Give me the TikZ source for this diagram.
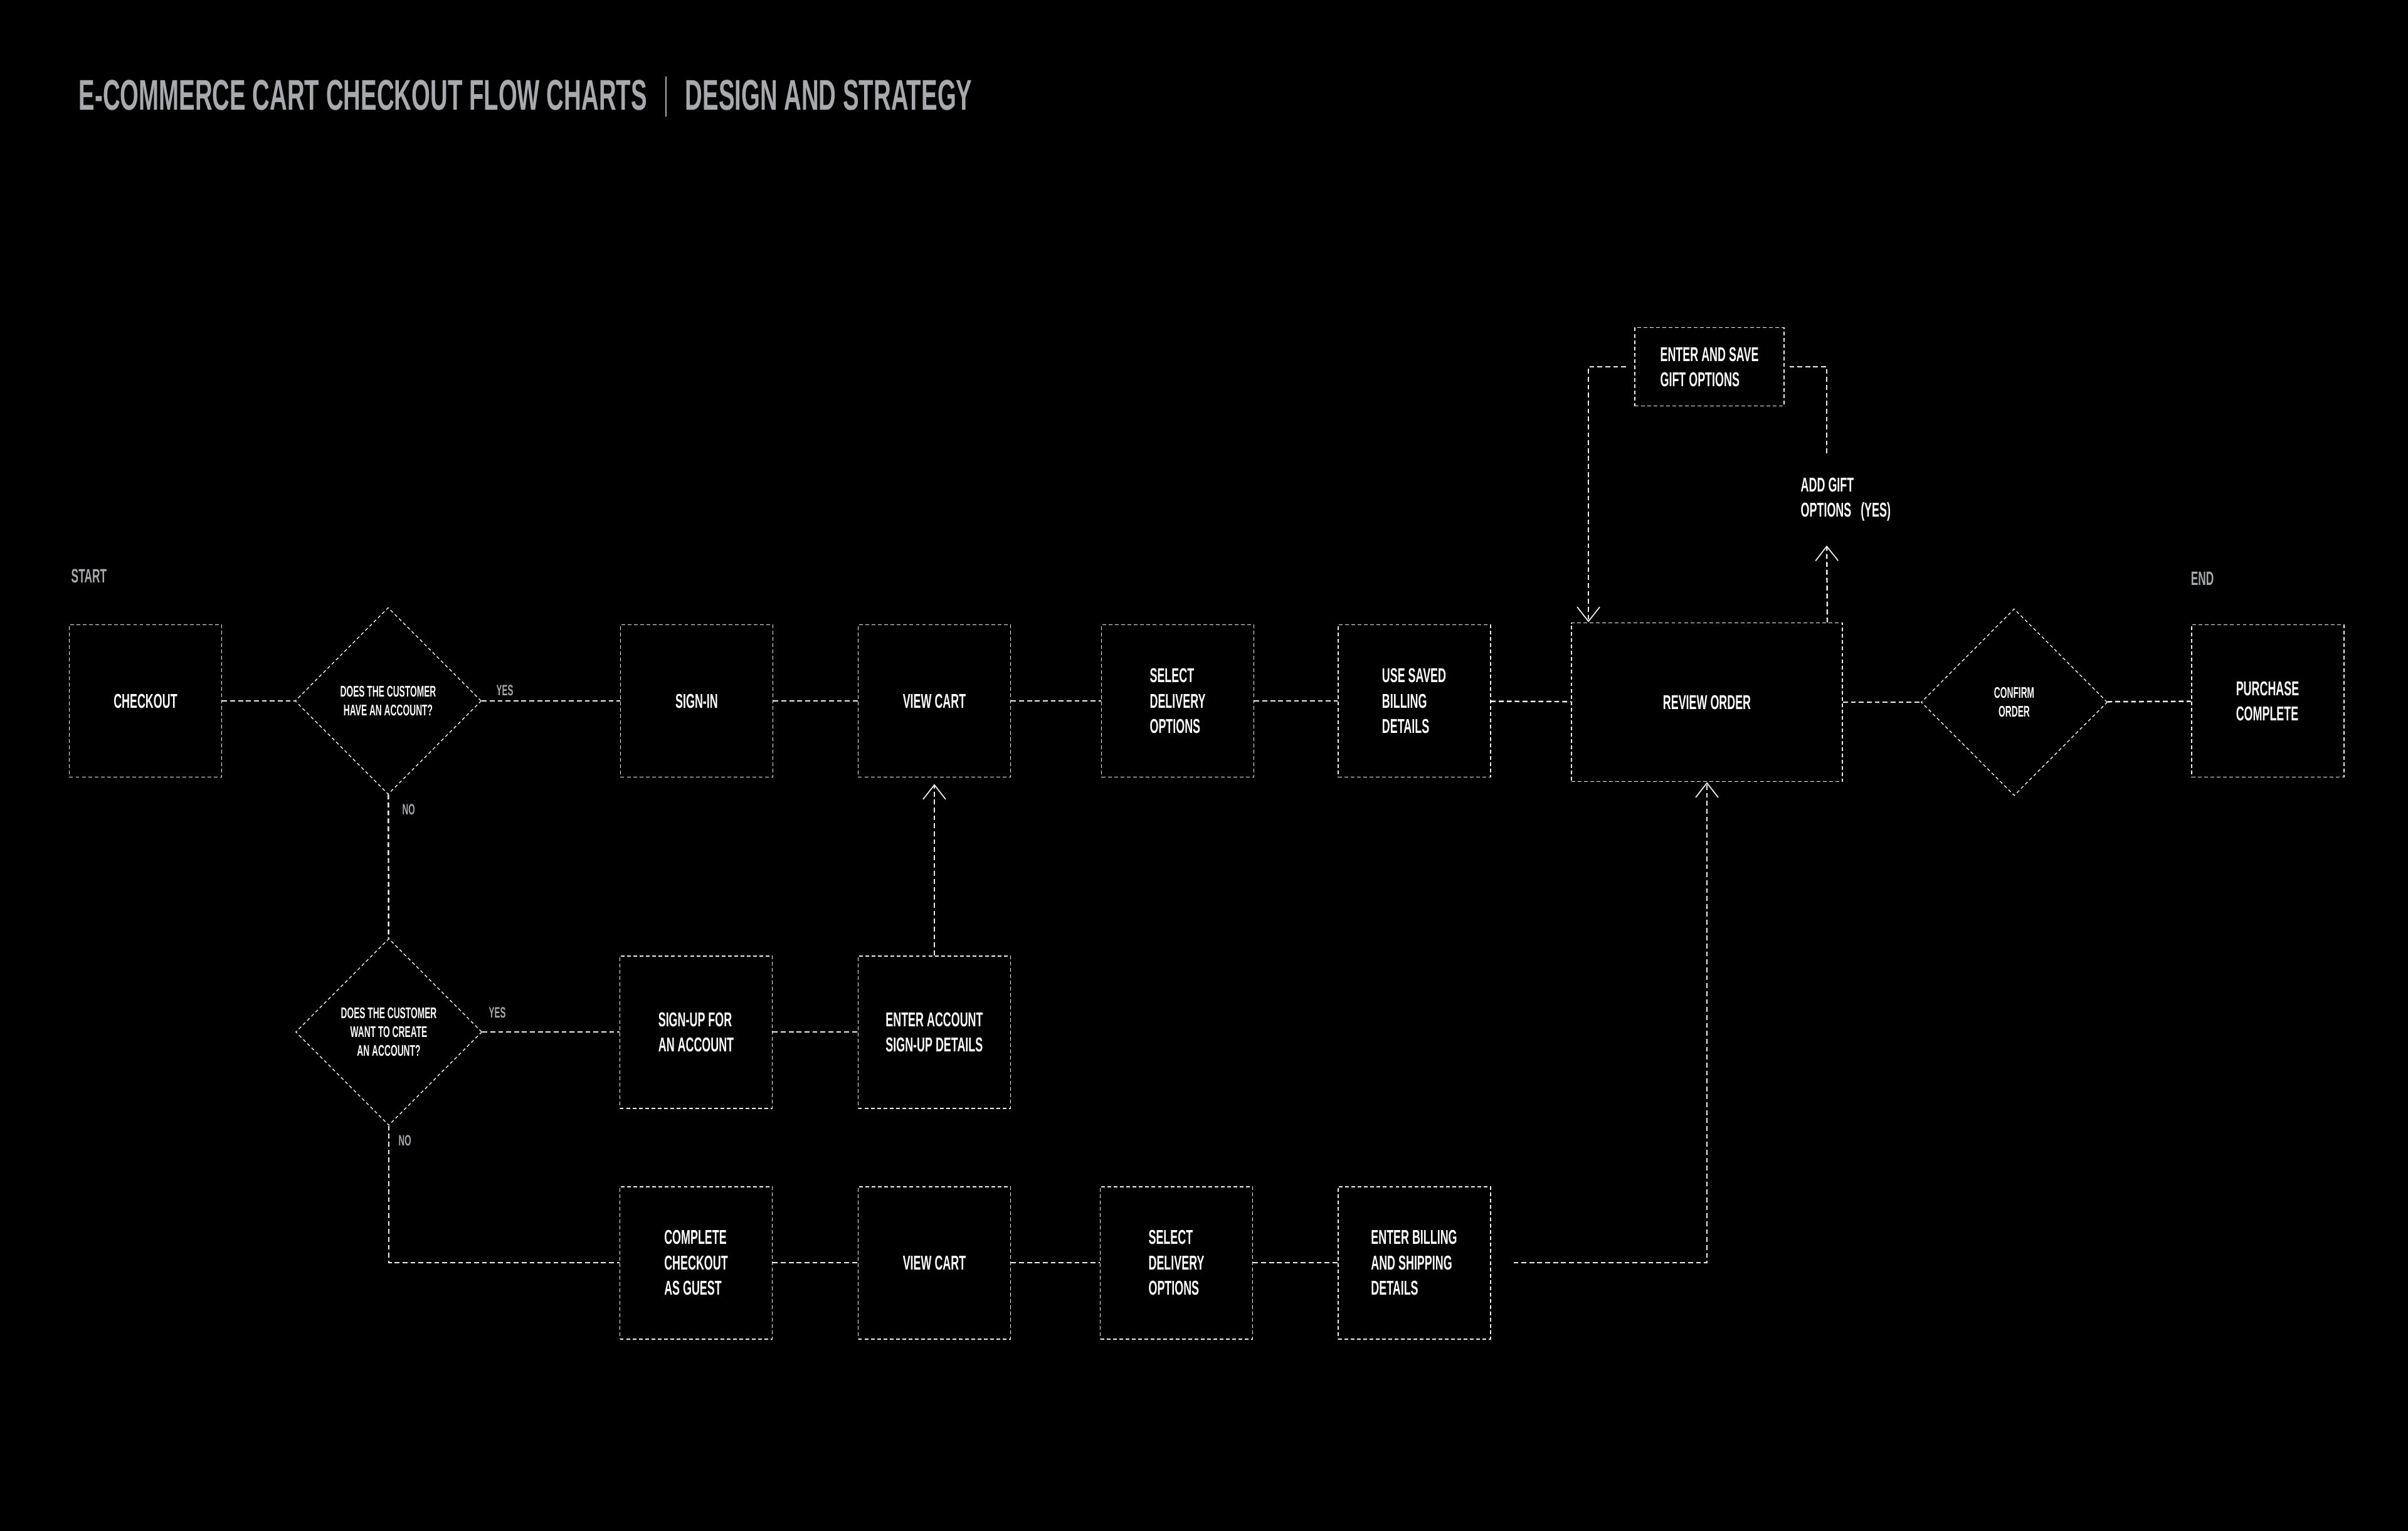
\documentclass[tikz,border=0pt]{standalone}
\usepackage{fontspec}
\setmainfont{Liberation Sans}[FakeStretch=0.56]
\usetikzlibrary{arrows.meta,calc,shapes.geometric}
\definecolor{Ink}{RGB}{0,0,0}
\definecolor{Chalk}{RGB}{236,236,236}
\definecolor{Ash}{RGB}{167,169,172}
\tikzset{
  >={Straight Barb[length=2.3mm,width=3.6mm,line width=.5pt]},
  stepbox/.style={draw=Chalk,line width=.55pt,dash pattern=on 1.7pt off 1.15pt,text=white,align=left,font=\bfseries\fontsize{9.1}{11.4}\selectfont,minimum width=2.43cm,minimum height=2.43cm,inner sep=0pt},
  decide/.style={diamond,draw=Chalk,line width=.4pt,dash pattern=on 1.5pt off 1.2pt,text=white,align=center,font=\bfseries\fontsize{7}{8.5}\selectfont,minimum width=2.97cm,minimum height=2.98cm,inner sep=0pt},
  remark/.style={text=white,align=left,font=\bfseries\fontsize{9.1}{11.4}\selectfont,inner sep=0pt},
  tag/.style={text=Ash,font=\bfseries\fontsize{6.8}{8}\selectfont,inner sep=0pt},
  endpoint/.style={text=Ash,font=\bfseries\fontsize{8.8}{10}\selectfont,inner sep=0pt},
  heading/.style={text=Ash,font=\bfseries\fontsize{19.5}{22}\selectfont,inner sep=0pt},
  link/.style={draw=Chalk,line width=.7pt,dash pattern=on 2.2pt off 1.4pt},
  linkto/.style={link,->}
}

\begin{document}
\begin{tikzpicture}
  \useasboundingbox (0,0) rectangle (38.4,-24.41);
  \fill[Ink] (-.2,.2) rectangle (38.6,-24.6);

  % title
  \node[heading,anchor=west] (title) at (1.25,-1.52) {E-COMMERCE CART CHECKOUT FLOW CHARTS};
  \node[heading,anchor=west] (subtitle) at (10.92,-1.52) {DESIGN AND STRATEGY};
  \draw[Ash,line width=.6pt] ($(title.east)!.5!(subtitle.west)+(0,.3)$) -- ++(0,-.64);

  \node[endpoint,anchor=west] (start) at (1.13,-9.19) {START};
  \node[endpoint,anchor=west] (finish) at (34.93,-9.23) {END};

  % main row
  \node[stepbox] (checkout) at (2.32,-11.18) {CHECKOUT};
  \node[decide] (hasacct) at (6.19,-11.18) {DOES THE CUSTOMER\\HAVE AN ACCOUNT?};
  \node[stepbox] (signin) at (11.11,-11.18) {SIGN-IN};
  \node[stepbox] (cart) at (14.90,-11.18) {VIEW CART};
  \node[stepbox] (delivery) at (18.78,-11.18) {SELECT\\DELIVERY\\OPTIONS};
  \node[stepbox] (billing) at (22.55,-11.18) {USE SAVED\\BILLING\\DETAILS};
  \node[stepbox,minimum width=4.32cm,minimum height=2.53cm] (review) at (27.22,-11.20) {REVIEW ORDER};
  \node[decide] (confirm) at (32.12,-11.20) {CONFIRM\\ORDER};
  \node[stepbox] (purchase) at (36.16,-11.18) {PURCHASE\\COMPLETE};

  % sign-up row
  \node[decide] (mkacct) at (6.20,-16.46) {DOES THE CUSTOMER\\WANT TO CREATE\\AN ACCOUNT?};
  \node[stepbox] (signup) at (11.10,-16.46) {SIGN-UP FOR\\AN ACCOUNT};
  \node[stepbox] (acctinfo) at (14.90,-16.46) {ENTER ACCOUNT\\SIGN-UP DETAILS};

  % guest row
  \node[stepbox] (guest) at (11.10,-20.14) {COMPLETE\\CHECKOUT\\AS GUEST};
  \node[stepbox] (cart2) at (14.90,-20.14) {VIEW CART};
  \node[stepbox] (delivery2) at (18.76,-20.14) {SELECT\\DELIVERY\\OPTIONS};
  \node[stepbox] (billing2) at (22.55,-20.14) {ENTER BILLING\\AND SHIPPING\\DETAILS};

  % gift loop
  \node[stepbox,minimum width=2.38cm,minimum height=1.25cm] (gift) at (27.26,-5.85) {ENTER AND SAVE\\GIFT OPTIONS};
  \node[remark,anchor=west] (giftq) at (28.71,-7.97) {ADD GIFT\\OPTIONS~~~(YES)};
  \coordinate (gtop) at (29.13,-7.23);
  \coordinate (gtip) at (29.13,-8.70);

  \node[tag,anchor=south west] (yes1) at (7.91,-11.10) {YES};
  \node[tag,anchor=north west] (no1) at (6.41,-12.82) {NO};
  \node[tag,anchor=south west] (yes2) at (7.79,-16.24) {YES};
  \node[tag,anchor=north west] (no2) at (6.35,-18.10) {NO};

  \draw[link] (checkout) -- (hasacct);
  \draw[link] (hasacct) -- (signin);
  \draw[link] (signin) -- (cart);
  \draw[link] (cart) -- (delivery);
  \draw[link] (delivery) -- (billing);
  \draw[link] (billing) -- (review);
  \draw[link] (review) -- (confirm);
  \draw[link] (confirm) -- (purchase);
  \draw[link] (hasacct) -- (mkacct);
  \draw[link] (mkacct) -- (signup);
  \draw[link] (signup) -- (acctinfo);
  \draw[linkto,shorten >=1mm] (acctinfo) -- (cart);
  \draw[link] (mkacct.south) |- (guest.west);
  \draw[link] (guest) -- (cart2);
  \draw[link] (cart2) -- (delivery2);
  \draw[link] (delivery2) -- (billing2);
  \draw[linkto,shorten <=3.6mm] (billing2.east) -| (review.south);
  \draw[linkto] ($(review.north east)+(-.25,0)$) -- (gtip);
  \draw[link,shorten >=.7mm] (gtop) |- (gift.east);
  \draw[linkto,shorten <=1.3mm] (gift.west) -| ($(review.north west)+(.28,0)$);
\end{tikzpicture}
\end{document}
